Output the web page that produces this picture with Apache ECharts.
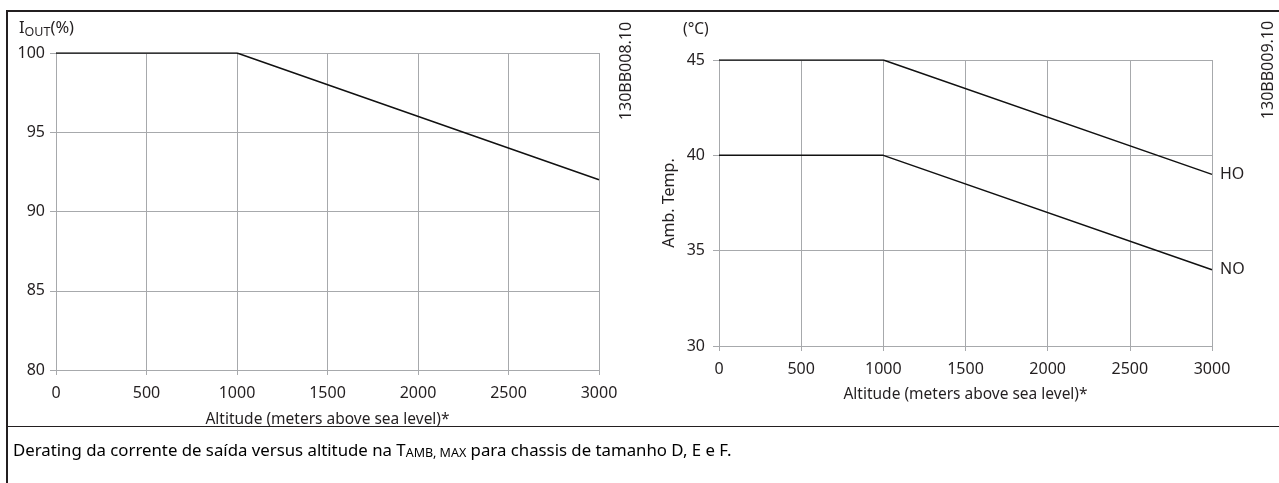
<!DOCTYPE html>
<html>
<head>
<meta charset="utf-8">
<script src="https://cdn.jsdelivr.net/npm/echarts@6/dist/echarts.min.js"></script>
<style>
html,body{margin:0;padding:0;background:#fff;}
#c{width:1279px;height:483px;}
</style>
</head>
<body>
<div id="c"></div>
<script>
// Data
const altitude = [0, 1000, 3000];
const ioutPct = [100, 100, 92];
const tempHO = [45, 45, 39];
const tempNO = [40, 40, 34];
const xLabelName = 'Altitude (meters above sea level)*';
const leftCode = '130BB008.10';
const rightCode = '130BB009.10';
const caption = ['Derating da corrente de saída versus altitude na T', 'AMB, MAX', ' para chassis de tamanho D, E e F.'];

const FONT = 'Noto Sans';
const TXT = '#231f20';
const GRID = '#a7a9ac';

const pairs = (ys) => altitude.map((a, i) => [a, ys[i]]);

const chart = echarts.init(document.getElementById('c'), null, {renderer: 'canvas'});

function xAxisCfg(gridIndex, gap) {
  return {
    gridIndex, type: 'value', min: 0, max: 3000, interval: 500,
    name: xLabelName, nameLocation: 'middle', nameGap: gap,
    nameTextStyle: {fontFamily: FONT, fontSize: 15.5, color: TXT},
    axisLine: {show: true, lineStyle: {color: GRID, width: 1}},
    axisTick: {show: true, inside: false, length: 5, lineStyle: {color: GRID}},
    axisLabel: {fontFamily: FONT, fontSize: 16, color: TXT, margin: 15, formatter: (v) => String(v)},
    splitLine: {show: true, lineStyle: {color: GRID, width: 1}}
  };
}
function yAxisCfg(gridIndex, min, max, margin, extra) {
  return Object.assign({
    gridIndex, type: 'value', min, max, interval: 5,
    axisLine: {show: true, onZero: false, lineStyle: {color: GRID, width: 1}},
    axisTick: {show: true, inside: false, length: 6, lineStyle: {color: GRID}},
    axisLabel: {fontFamily: FONT, fontSize: 16, color: TXT, margin: margin},
    splitLine: {show: true, lineStyle: {color: GRID, width: 1}}
  }, extra || {});
}

const lineStyle = {color: '#111', width: 1.5};

chart.setOption({
  animation: false,
  backgroundColor: '#fff',
  grid: [
    {left: 56, top: 53, width: 543, height: 317},
    {left: 719, top: 60, width: 493, height: 286}
  ],
  xAxis: [xAxisCfg(0, 42), xAxisCfg(1, 41)],
  yAxis: [
    yAxisCfg(0, 80, 100, 11),
    yAxisCfg(1, 30, 45, 14, {
      name: 'Amb. Temp.', nameLocation: 'middle', nameGap: 42,
      nameTextStyle: {fontFamily: FONT, fontSize: 16, color: TXT}
    })
  ],
  series: [
    {type: 'line', xAxisIndex: 0, yAxisIndex: 0, data: pairs(ioutPct), symbol: 'none', lineStyle},
    {type: 'line', xAxisIndex: 1, yAxisIndex: 1, data: pairs(tempHO), symbol: 'none', lineStyle,
      endLabel: {show: true, formatter: 'HO', fontFamily: FONT, fontSize: 16, color: TXT, distance: 8}},
    {type: 'line', xAxisIndex: 1, yAxisIndex: 1, data: pairs(tempNO), symbol: 'none', lineStyle,
      endLabel: {show: true, formatter: 'NO', fontFamily: FONT, fontSize: 16, color: TXT, distance: 8}}
  ],
  graphic: [
    // frame
    {type: 'line', shape: {x1: 6, y1: 11, x2: 1279, y2: 11}, style: {stroke: '#231f20', lineWidth: 2}},
    {type: 'line', shape: {x1: 7, y1: 10, x2: 7, y2: 483}, style: {stroke: '#231f20', lineWidth: 2}},
    {type: 'line', shape: {x1: 7, y1: 426.5, x2: 1279, y2: 426.5}, style: {stroke: '#231f20', lineWidth: 1}},
    // y-axis unit labels
    {type: 'text', left: 19, top: 20, style: {
      text: '{a|I}{b|OUT}{a|(%)}',
      rich: {a: {fontFamily: FONT, fontSize: 16.5, fill: TXT}, b: {fontFamily: FONT, fontSize: 12.5, fill: TXT, padding: [7, 0, 0, 0]}}
    }},
    {type: 'text', left: 683, top: 22, style: {text: '(°C)', fontFamily: FONT, fontSize: 15.5, fill: TXT}},
    // figure codes
    {type: 'text', x: 626, y: 71, rotation: Math.PI / 2, style: {text: leftCode, fontFamily: FONT, fontSize: 16, fill: TXT, align: 'center', verticalAlign: 'middle'}},
    {type: 'text', x: 1268, y: 70, rotation: Math.PI / 2, style: {text: rightCode, fontFamily: FONT, fontSize: 16, fill: TXT, align: 'center', verticalAlign: 'middle'}},
    // caption
    {type: 'text', left: 13, top: 443, style: {
      text: '{a|' + caption[0] + '}{s|' + caption[1] + '}{a|' + caption[2] + '}',
      rich: {a: {fontFamily: FONT, fontSize: 16.8, fill: '#000'}, s: {fontFamily: FONT, fontSize: 12.5, fill: '#000', padding: [3, 0, 0, 0]}}
    }}
  ]
});
</script>
</body>
</html>
